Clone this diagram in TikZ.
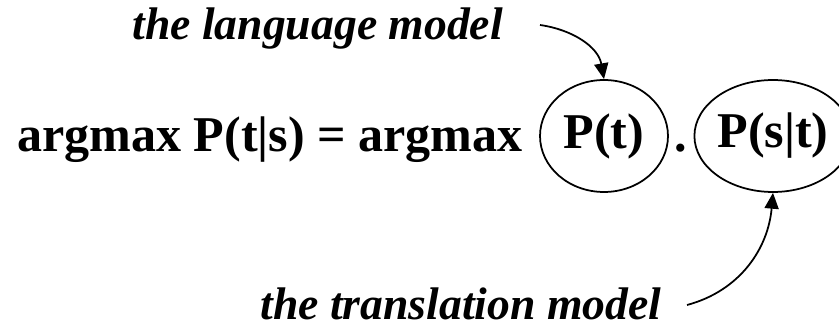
\documentclass[tikz,border=0pt]{standalone}
\usepackage{fontspec}
\setmainfont{Liberation Serif}
\usetikzlibrary{positioning, shapes.geometric, arrows.meta}

\begin{document}
\begin{tikzpicture}[x=0.02cm, y=0.02cm,
  every node/.style={inner sep=0pt, font=\fontsize{28.5}{34}\selectfont\bfseries},
  model/.style={draw, ellipse, line width=1pt},
  lbl/.style={anchor=base west, font=\fontsize{26}{31}\selectfont\bfseries\itshape},
  arr/.style={line width=1pt, -{Triangle[length=9pt, width=8pt]}}]

\useasboundingbox (0,0) rectangle (839,328);

% the equation
\node[anchor=base west] (lhs) at (17,176) {argmax P(t|s) = argmax};
\node[model, minimum width=2.56cm, minimum height=2.24cm] (pt) at (604,192) {P(t)};
\node[anchor=base] (dot) at (681,176) {.};
\node[model, minimum width=2.8cm, minimum height=2.24cm] (pst) at (773,192) {P(s|t)};

% labels
\node[lbl] (lm) at (132,288) {the language model};
\node[lbl] (tm) at (260,8) {the translation model};

\coordinate (lmtail) at (540,303);
\coordinate (tmtail) at (687,23);

\draw[arr] (lmtail) to[out=-8, in=100] (pt.north);
\draw[arr] (tmtail) to[out=15, in=-95] (pst.south);

\end{tikzpicture}
\end{document}
